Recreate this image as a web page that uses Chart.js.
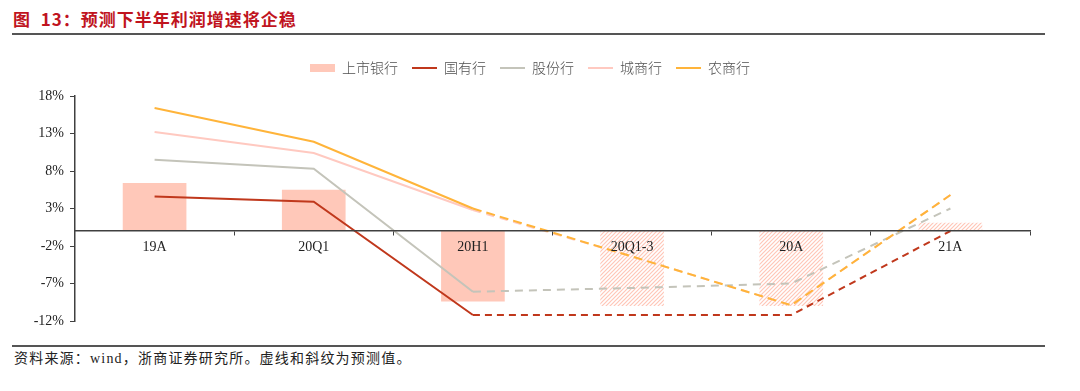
<!DOCTYPE html>
<html>
<head>
<meta charset="utf-8">
<script src="https://cdn.jsdelivr.net/npm/chart.js@4.4.1/dist/chart.umd.min.js"></script>
<style>
  html, body { margin: 0; padding: 0; background: #fff; }
  body { width: 1080px; height: 391px; position: relative; overflow: hidden; }
  #title { position: absolute; left: 13px; top: 6px; font: bold 17px "Noto Sans CJK SC", sans-serif; color: #C0141E; white-space: nowrap; letter-spacing: 1px; }
  .rule { position: absolute; left: 12px; width: 1033px; height: 2px; background: #555; }
  #source { position: absolute; left: 14px; top: 347px; font: 14px "Liberation Serif", "Noto Sans CJK SC", serif; color: #222; white-space: nowrap; letter-spacing: 1.2px; }
  #wrap { position: absolute; left: 0; top: 0; width: 1080px; height: 391px; }
</style>
</head>
<body>
<div id="title">图&nbsp;&nbsp;13：预测下半年利润增速将企稳</div>
<div class="rule" style="top:33px"></div>
<div class="rule" style="top:345px"></div>
<div id="source">资料来源：wind，浙商证券研究所。虚线和斜纹为预测值。</div>
<div id="wrap"><canvas id="c" width="1080" height="391"></canvas></div>
<script>
// ---- data ----
const categories = ['19A', '20Q1', '20H1', '20Q1-3', '20A', '21A'];
const listedBanks = [6.4, 5.5, -9.4, -10.0, -10.0, 1.1];      // 上市银行 (bars)
const stateOwned  = [4.6, 3.9, -11.2, -11.2, -11.2, 0.0];      // 国有行
const jointStock  = [9.5, 8.3, -8.1, -7.6, -7.0, 3.0];         // 股份行
const cityComm    = [13.2, 10.4, 2.8, -3.4, -9.9, 4.8];        // 城商行
const ruralComm   = [16.4, 11.9, 3.0, -3.4, -9.9, 4.8];        // 农商行
const yTicks = [-12, -7, -2, 3, 8, 13, 18];
const forecastFrom = 2; // index from which values are forecasts (dashed / hatched)

// ---- styles ----
const BAR = '#FFC8B9';
function hatch() {
  const c = document.createElement('canvas');
  c.width = 4; c.height = 4;
  const g = c.getContext('2d');
  g.strokeStyle = '#FFC6B8';
  g.lineWidth = 1.2;
  g.beginPath();
  g.moveTo(0, 4); g.lineTo(4, 0);
  g.moveTo(-1, 1); g.lineTo(1, -1);
  g.moveTo(3, 5); g.lineTo(5, 3);
  g.stroke();
  return g.createPattern(c, 'repeat');
}
const pat = hatch();
const barColors = categories.map((_, i) => i > forecastFrom ? pat : BAR);

const dashAfter = (dash) => ({
  borderDash: ctx => ctx.p0DataIndex >= forecastFrom ? dash : undefined
});

function lineDs(label, data, color, width, order, dash) {
  return {
    type: 'line', label, data, borderColor: color, backgroundColor: color,
    borderWidth: width, pointRadius: 0, pointHoverRadius: 0, tension: 0,
    fill: false, order, segment: dashAfter(dash), pointStyle: 'line'
  };
}

const legendPlugin = {
  id: 'legendGap',
  afterInit(chart) {
    const l = chart.legend;
    const f = l.fit.bind(l);
    l.fit = function () { f(); this.height += 11; };
  },
  afterLayout(chart) {
    chart.legend.left += 30;
  }
};

new Chart(document.getElementById('c'), {
  data: {
    labels: categories,
    datasets: [
      { type: 'bar', label: '上市银行', data: listedBanks, backgroundColor: barColors,
        borderWidth: 0, barPercentage: 0.4, categoryPercentage: 1.0, order: 10, pointStyle: 'rect' },
      lineDs('国有行', stateOwned, '#C0381C', 2, 3, [7, 5]),
      lineDs('股份行', jointStock, '#C4C4BA', 2, 4, [8, 6]),
      lineDs('城商行', cityComm, '#FFC9C0', 2, 5, [8, 6]),
      lineDs('农商行', ruralComm, '#FFB43A', 2, 1, [9, 5])
    ]
  },
  options: {
    responsive: false,
    animation: false,
    events: [],
    layout: { padding: { left: 0, right: 50, top: 47, bottom: 70 } },
    plugins: {
      tooltip: { enabled: false },
      legend: {
        position: 'top',
        labels: {
          usePointStyle: true, pointStyleWidth: 25, boxHeight: 8,
          padding: 14, color: '#505050',
          font: { family: '"Noto Sans CJK SC", sans-serif', size: 14, weight: '300' },
          generateLabels(chart) {
            return chart.data.datasets.map((ds, i) => ({
              text: ds.label,
              fillStyle: ds.type === 'bar' ? BAR : ds.borderColor,
              strokeStyle: ds.type === 'bar' ? BAR : ds.borderColor,
              lineWidth: ds.type === 'bar' ? 0 : 2,
              pointStyle: ds.type === 'bar' ? 'rect' : 'line',
              fontColor: '#505050',
              datasetIndex: i, hidden: false
            }));
          }
        }
      }
    },
    scales: {
      x: {
        position: { y: 0 },
        offset: true,
        grid: { offset: true, drawOnChartArea: false, drawTicks: true, tickLength: 4, color: '#404040', lineWidth: 1, z: 1 },
        border: { display: true, color: '#404040', width: 1.5, z: 1 },
        ticks: { z: 1, color: '#222', padding: 4, font: { family: '"Liberation Serif", serif', size: 14 }, maxRotation: 0, autoSkip: false },
        afterFit(s) { s.height = 0; }
      },
      y: {
        min: -12, max: 18,
        afterBuildTicks(s) { s.ticks = yTicks.map(v => ({ value: v })); },
        grid: { drawOnChartArea: false, drawTicks: true, tickLength: 5, color: '#404040', lineWidth: 1 },
        border: { display: true, color: '#404040', width: 1.5 },
        ticks: { color: '#222', padding: 6, font: { family: '"Liberation Serif", serif', size: 14 },
          callback: v => v + '%' },
        afterFit(s) { s.width = 75; }
      }
    }
  },
  plugins: [legendPlugin]
});
</script>
</body>
</html>
